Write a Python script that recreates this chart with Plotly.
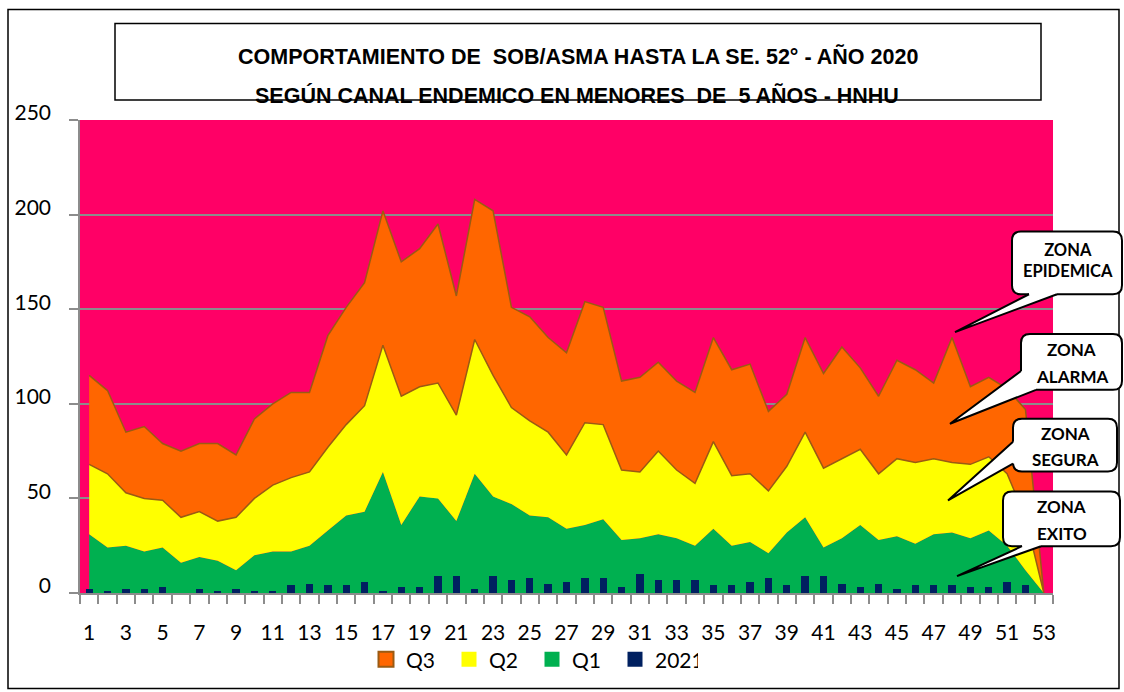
import plotly.graph_objects as go

# ---------------- data ----------------
weeks = list(range(1, 54))
q3 = [115, 107, 85, 88, 79, 75, 79, 79, 73, 92, 100, 106, 106, 136, 151, 164, 202, 175, 182, 195,
      157, 208, 202, 151, 146, 135, 127, 154, 151, 112, 114, 122, 112, 106, 135, 118, 121, 96, 105, 135,
      116, 130, 119, 104, 123, 118, 111, 135, 109, 114, 108, 97, 0]
q2 = [68, 63, 53, 50, 49, 40, 43, 38, 40, 50, 57, 61, 64, 77, 89, 99, 131, 104, 109, 111,
      94, 134, 115, 98, 91, 85, 73, 90, 89, 65, 64, 75, 65, 58, 80, 62, 63, 54, 67, 85,
      66, 71, 76, 63, 71, 69, 71, 69, 68, 72, 63, 40, 0]
q1 = [31, 24, 25, 22, 24, 16, 19, 17, 12, 20, 22, 22, 25, 33, 41, 43, 64, 36, 51, 50,
      38, 63, 51, 47, 41, 40, 34, 36, 39, 28, 29, 31, 29, 25, 34, 25, 27, 21, 32, 40,
      24, 29, 36, 28, 30, 26, 31, 32, 29, 33, 25, 12, 0]
y2021 = [2, 1, 2, 2, 3, 0, 2, 1, 2, 1, 1, 4, 5, 4, 4, 6, 1, 3, 3, 9,
         9, 2, 9, 7, 8, 5, 6, 8, 8, 3, 10, 7, 7, 7, 4, 4, 6, 8, 4, 9,
         9, 5, 3, 5, 2, 4, 4, 4, 3, 3, 6, 4, 0]
series_names = ["Q3", "Q2", "Q1", "2021"]
x_ticklabels = [str(w) for w in weeks[::2]]
y_ticks = [0, 50, 100, 150, 200, 250]
title1 = "COMPORTAMIENTO DE  SOB/ASMA HASTA LA SE. 52° - AÑO 2020"
title2 = "SEGÚN CANAL ENDEMICO EN MENORES  DE  5 AÑOS - HNHU"
zones = [("ZONA", "EPIDEMICA"), ("ZONA", "ALARMA"), ("ZONA", "SEGURA"), ("ZONA", "EXITO")]

# ---------------- style ----------------
PINK = "#FF0066"
ORANGE = "#FF6600"
YELLOW = "#FFFF00"
GREEN = "#00B050"
NAVY = "#002060"
BROWN = "#9A5B13"
GRAY = "#8C8C8C"
TICKFONT = "Lato, Open Sans, sans-serif"

W, H = 1124, 692
L, R, T, B = 80, 1053, 120, 595


def px(x):
    return (x - L) / (R - L)


def py(y):
    return (B - y) / (B - T)


fig = go.Figure()

# Q1 (green) area
fig.add_trace(go.Scatter(x=weeks, y=q1, mode="lines", fill="tozeroy",
                         fillcolor=GREEN, line=dict(width=0, color=GREEN),
                         showlegend=False, hoverinfo="skip"))
# Q2 (yellow) band between Q1 and Q2
fig.add_trace(go.Scatter(x=weeks + weeks[::-1], y=q2 + q1[::-1], mode="lines",
                         fill="toself", fillcolor=YELLOW, line=dict(width=0, color=YELLOW),
                         showlegend=False, hoverinfo="skip"))
# Q3 (orange) band between Q2 and Q3 with brown outline
fig.add_trace(go.Scatter(x=weeks + weeks[::-1], y=q3 + q2[::-1], mode="lines",
                         fill="toself", fillcolor=ORANGE, line=dict(width=1.5, color=BROWN),
                         showlegend=False, hoverinfo="skip"))
# 2021 bars on overlay axes (so they are drawn above the areas)
fig.add_trace(go.Bar(x=weeks, y=y2021, width=0.4, marker=dict(color=NAVY, line=dict(width=0)),
                     xaxis="x2", yaxis="y2", showlegend=False, hoverinfo="skip"))

# legend entries
legend_styles = {
    "Q3": dict(color=ORANGE, line=dict(color=BROWN, width=2)),
    "Q2": dict(color=YELLOW, line=dict(width=0)),
    "Q1": dict(color=GREEN, line=dict(width=0)),
    "2021": dict(color=NAVY, line=dict(width=0)),
}
for rank, name in enumerate(series_names, start=1):
    fig.add_trace(go.Scatter(x=[None], y=[None], mode="markers", name=name,
                             marker=dict(symbol="square", size=15, **legend_styles[name]),
                             legendrank=rank, showlegend=True))

shapes = []
annotations = []

# outer border
shapes.append(dict(type="rect", xref="paper", yref="paper",
                   x0=px(8), x1=px(1119), y0=py(9), y1=py(691),
                   line=dict(color="black", width=1.5), fillcolor="rgba(0,0,0,0)", layer="above"))
# title box
shapes.append(dict(type="rect", xref="paper", yref="paper",
                   x0=px(115), x1=px(1041), y0=py(23), y1=py(100),
                   line=dict(color="black", width=1.5), fillcolor="rgba(0,0,0,0)", layer="above"))
annotations.append(dict(text=f"<b>{title1}</b>", xref="paper", yref="paper",
                        x=px(578), y=py(56), showarrow=False, xanchor="center", yanchor="middle",
                        font=dict(family="Liberation Sans, Arial, sans-serif", size=21.5, color="black")))
annotations.append(dict(text=f"<b>{title2}</b>", xref="paper", yref="paper",
                        x=px(577), y=py(95), showarrow=False, xanchor="center", yanchor="middle",
                        font=dict(family="Liberation Sans, Arial, sans-serif", size=21.5, color="black")))


def P(x, y):
    return f"{px(x):.5f},{py(y):.5f}"


def rrect_path(x0, y0, x1, y1, r=9):
    return (f"M {P(x0 + r, y0)} L {P(x1 - r, y0)} Q {P(x1, y0)} {P(x1, y0 + r)} "
            f"L {P(x1, y1 - r)} Q {P(x1, y1)} {P(x1 - r, y1)} L {P(x0 + r, y1)} "
            f"Q {P(x0, y1)} {P(x0, y1 - r)} L {P(x0, y0 + r)} Q {P(x0, y0)} {P(x0 + r, y0)} Z")


# callouts: box (x0,y0,x1,y1), wedge base points, tip, text line y positions
callouts = [
    dict(box=(1012, 232, 1122, 295), base=[(1029, 295), (1057, 295)], inner=[(1029, 291), (1057, 291)],
         tip=(955, 333), ty=(252, 271)),
    dict(box=(1021, 335, 1122, 391), base=[(1021, 372), (1036, 391)], inner=[(1025, 372), (1036, 387)],
         tip=(950, 425), ty=(350, 378)),
    dict(box=(1013, 420, 1117, 473), base=[(1013, 443), (1013, 465)], inner=[(1017, 443), (1017, 465)],
         tip=(948, 502), ty=(435, 461)),
    dict(box=(1003, 493, 1120, 548), base=[(1022, 548), (1041, 548)], inner=[(1022, 544), (1041, 544)],
         tip=(957, 578), ty=(508, 535)),
]
for i, (c, (l1, l2)) in enumerate(zip(callouts, zones)):
    x0, y0, x1, y1 = c["box"]
    shapes.append(dict(type="path", xref="paper", yref="paper", path=rrect_path(x0, y0, x1, y1),
                       fillcolor="white", line=dict(color="black", width=2), layer="above"))
    (bx0, by0), (bx1, by1) = c["base"]
    (ix0, iy0), (ix1, iy1) = c["inner"]
    tx, ty = c["tip"]
    shapes.append(dict(type="path", xref="paper", yref="paper",
                       path=f"M {P(ix0, iy0)} L {P(bx0, by0)} L {P(tx, ty)} L {P(bx1, by1)} L {P(ix1, iy1)} Z",
                       fillcolor="white", line=dict(width=0), layer="above"))
    shapes.append(dict(type="path", xref="paper", yref="paper",
                       path=f"M {P(bx0, by0)} L {P(tx, ty)} L {P(bx1, by1)}",
                       line=dict(color="black", width=2), layer="above"))
    cx = (x0 + x1) / 2
    if i == 0:
        # tightly spaced two-line label as a single text
        annotations.append(dict(text=f"<b>{l1}<br>{l2}</b>", xref="paper", yref="paper",
                                x=px(cx + 1), y=py(sum(c["ty"]) / 2), showarrow=False,
                                xanchor="center", yanchor="middle", align="center",
                                font=dict(family=TICKFONT, size=16.5, color="black")))
    else:
        for txt, yy in zip((l1, l2), c["ty"]):
            annotations.append(dict(text=f"<b>{txt}</b>", xref="paper", yref="paper", x=px(cx), y=py(yy),
                                    showarrow=False, xanchor="center", yanchor="middle",
                                    font=dict(family=TICKFONT, size=17, color="black")))

fig.update_layout(
    width=W, height=H,
    margin=dict(l=L, r=W - R, t=T, b=H - B, pad=0),
    paper_bgcolor="white",
    plot_bgcolor=PINK,
    shapes=shapes,
    annotations=annotations,
    showlegend=True,
    legend=dict(orientation="h", x=px(366), y=py(662), xanchor="left", yanchor="middle",
                font=dict(family=TICKFONT, size=21, color="black"),
                bgcolor="rgba(0,0,0,0)", itemclick=False, itemdoubleclick=False,
                entrywidth=38, entrywidthmode="pixels", traceorder="normal"),
    xaxis=dict(range=[0.5, 53.5], tickmode="array", tickvals=weeks[::2], ticktext=x_ticklabels,
               ticks="outside", ticklen=9, tickcolor="rgba(0,0,0,0)", ticklabelstandoff=11,
               showgrid=False, zeroline=False, showline=True, linecolor=GRAY, linewidth=1.5,
               tickfont=dict(family=TICKFONT, size=21, color="black"),
               minor=dict(tickmode="array", tickvals=[w - 0.5 for w in weeks] + [weeks[-1] + 0.5],
                          ticks="outside", ticklen=9, tickcolor=GRAY, tickwidth=1.5, showgrid=False)),
    yaxis=dict(range=[0, 250], tickmode="array", tickvals=y_ticks, ticks="outside", ticklen=9,
               tickcolor=GRAY, tickwidth=1.5, showgrid=True, gridcolor=GRAY, gridwidth=1.5,
               zeroline=False, showline=True, linecolor=GRAY, linewidth=1.5,
               ticklabelstandoff=14, ticklabelshift=-7,
               tickfont=dict(family=TICKFONT, size=21, color="black")),
    xaxis2=dict(range=[0.5, 53.5], overlaying="x", anchor="y2", visible=False),
    yaxis2=dict(range=[0, 250], overlaying="y", anchor="x2", visible=False),
    bargap=0,
)

fig.write_html("out.html", config={"displayModeBar": False},
               post_script="document.body.style.margin='0';")
